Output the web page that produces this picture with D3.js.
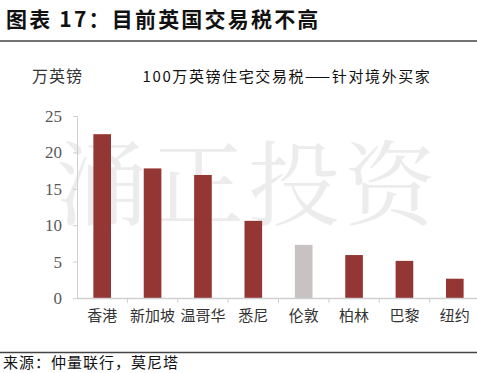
<!DOCTYPE html>
<html>
<head>
<meta charset="utf-8">
<script src="https://cdn.jsdelivr.net/npm/d3@7"></script>
<style>
  body { margin: 0; background: #fff; }
  svg text { font-family: "Noto Sans CJK SC", "Noto Sans", sans-serif; }
</style>
</head>
<body>
<svg id="chart" width="477" height="373"></svg>
<script>
// data
const cities = ['香港', '新加坡', '温哥华', '悉尼', '伦敦', '柏林', '巴黎', '纽约'];
const tax = [22.5, 17.8, 16.9, 10.6, 7.3, 5.9, 5.1, 2.65];
const highlight = ['伦敦'];
const yTicks = [0, 5, 10, 15, 20, 25];

const svg = d3.select('#chart');

function barColor(c){
    return highlight.indexOf(c) >= 0 ? '#c9c2c2' : '#943634';
}

// watermark
svg.append('g').selectAll('text')
   .data(['涌', '正', '投', '资'])
   .enter()
   .append('text')
   .text(function(d){return d;})
   .attr('x', function(d, i){return 102 + i*96;})
   .attr('y', 218)
   .attr('text-anchor', 'middle')
   .attr('font-size', 92)
   .style('font-family', '"Noto Serif CJK SC", "DejaVu Serif", serif')
   .attr('fill', '#ececec');

// header
svg.append('text')
   .text('图表 17：目前英国交易税不高')
   .attr('x', 6)
   .attr('y', 27)
   .attr('font-size', 21)
   .attr('letter-spacing', 2.2)
   .attr('font-weight', 'bold')
   .attr('fill', '#111');
svg.append('line')
   .attr('x1', 0).attr('x2', 477)
   .attr('y1', 41).attr('y2', 41)
   .attr('stroke', '#444').attr('stroke-width', 1.5);
svg.append('line')
   .attr('x1', 0).attr('x2', 477)
   .attr('y1', 352.5).attr('y2', 352.5)
   .attr('stroke', '#444').attr('stroke-width', 1.5);
svg.append('text')
   .text('来源：仲量联行，莫尼塔')
   .attr('x', 3)
   .attr('y', 368)
   .attr('font-size', 15)
   .attr('letter-spacing', 1)
   .attr('fill', '#111');

// titles
svg.append('text')
   .text('万英镑')
   .attr('x', 32)
   .attr('y', 82)
   .attr('font-size', 16)
   .attr('letter-spacing', 1)
   .attr('fill', '#333');
svg.append('text')
   .text('100万英镑住宅交易税——针对境外买家')
   .attr('x', 287)
   .attr('y', 82)
   .attr('text-anchor', 'middle')
   .attr('font-size', 15)
   .attr('letter-spacing', 1.6)
   .attr('fill', '#111');

// scales
const x = d3.scaleBand().domain(cities).range([77, 480]).paddingInner(0.65).paddingOuter(0.325);
const y = d3.scaleLinear().domain([0, 25]).range([298, 116]);

// y axis
const yAxis = svg.append('g')
    .attr('transform', 'translate(77,0)')
    .call(d3.axisLeft(y).tickValues(yTicks).tickSize(4).tickPadding(11));
yAxis.select('.domain').attr('stroke', '#d0d0d0');
yAxis.selectAll('.tick line').attr('stroke', '#d0d0d0');
yAxis.selectAll('.tick text')
     .attr('font-size', 17)
     .attr('fill', '#595959')
     .style('font-family', '"Liberation Serif", "DejaVu Serif", serif');

// bars
svg.selectAll('rect.bar')
   .data(cities)
   .enter()
   .append('rect')
   .attr('class', 'bar')
   .attr('x', function(d){return x(d);})
   .attr('width', x.bandwidth())
   .attr('y', function(d, i){return y(tax[i]);})
   .attr('height', function(d, i){return y(0) - y(tax[i]);})
   .attr('fill', function(d){return barColor(d);});

// x axis
const xAxis = svg.append('g')
    .attr('transform', 'translate(0,298)')
    .call(d3.axisBottom(x).tickSize(0).tickPadding(12));
xAxis.select('.domain').attr('stroke', '#d0d0d0').attr('stroke-width', 1.5);
xAxis.selectAll('.tick text')
     .attr('font-size', 15)
     .attr('fill', '#333');
svg.append('g').selectAll('line')
   .data(cities.slice(1))
   .enter()
   .append('line')
   .attr('x1', function(d){return x(d) - x.step()*x.paddingInner()/2;})
   .attr('x2', function(d){return x(d) - x.step()*x.paddingInner()/2;})
   .attr('y1', 298).attr('y2', 303)
   .attr('stroke', '#d0d0d0');
</script>
</body>
</html>
